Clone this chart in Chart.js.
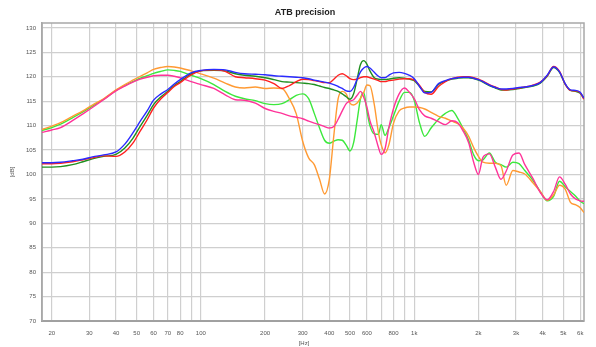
<!DOCTYPE html>
<html>
<head>
<meta charset="utf-8">
<script src="https://cdn.jsdelivr.net/npm/chart.js@4.4.1/dist/chart.umd.min.js"></script>
<style>
  html, body { margin: 0; padding: 0; background: #fff; }
</style>
</head>
<body>
<canvas id="atb" width="596" height="347"></canvas>
<script>
// frequency points (Hz)
const freqs = [18, 20, 22, 25, 28, 31, 35, 40, 44, 48,
  52, 56, 60, 65, 70, 75, 80, 90, 100, 115,
  130, 145, 160, 180, 200, 220, 240, 260, 280, 300,
  320, 340, 360, 380, 400, 420, 440, 460, 480, 500,
  520, 540, 560, 580, 600, 620, 650, 680, 700, 730,
  760, 800, 850, 900, 950, 1000, 1060, 1120, 1200, 1300,
  1400, 1500, 1600, 1700, 1800, 1900, 2000, 2100, 2250, 2400,
  2550, 2700, 2900, 3100, 3300, 3600, 3900, 4200, 4500, 4800,
  5100, 5400, 5700, 6000, 6250];

// levels in dB
const blue = [102.4, 102.4, 102.5, 102.8, 103.1, 103.6, 104.0, 104.6, 106.2, 108.5,
  110.9, 113.0, 115.2, 116.5, 117.4, 118.5, 119.4, 120.8, 121.3, 121.5,
  121.4, 120.9, 120.6, 120.5, 120.4, 120.2, 120.1, 120.0, 119.9, 119.8,
  119.6, 119.3, 119.1, 118.9, 118.7, 118.4, 118.0, 117.6, 117.1, 117.0,
  117.8, 119.5, 121.0, 121.8, 122.1, 121.8, 120.9, 120.1, 119.8, 119.8,
  120.3, 120.8, 120.9, 120.7, 120.3, 119.6, 118.0, 116.7, 116.8, 118.6,
  119.2, 119.6, 119.8, 119.9, 119.9, 119.7, 119.4, 119.0, 118.3, 117.8,
  117.5, 117.5, 117.6, 117.8, 117.9, 118.2, 118.8, 120.3, 122.0, 121.0,
  118.6, 117.3, 117.2, 116.8, 115.6];

const red = [102.2, 102.2, 102.3, 102.6, 103.0, 103.4, 103.8, 103.7, 104.6, 106.4,
  108.9, 111.2, 113.6, 115.5, 116.8, 118.0, 118.8, 120.4, 121.2, 121.4,
  121.1, 120.0, 119.8, 119.6, 119.3, 118.6, 117.6, 118.2, 119.0, 119.5,
  119.4, 119.2, 119.0, 118.8, 118.8, 119.5, 120.3, 120.6, 120.2, 119.6,
  119.4, 119.5, 119.8, 120.0, 120.0, 119.8, 119.5, 119.2, 119.0, 119.0,
  119.2, 119.3, 119.5, 119.6, 119.6, 119.3, 118.2, 116.8, 116.4, 118.0,
  119.0, 119.6, 119.9, 120.0, 120.0, 119.8, 119.5, 119.1, 118.4, 117.9,
  117.4, 117.3, 117.5, 117.7, 117.9, 118.3, 118.9, 120.2, 122.1, 121.1,
  118.5, 117.2, 117.1, 116.7, 115.4];

const darkGreen = [101.5, 101.5, 101.6, 102.0, 102.6, 103.2, 103.7, 104.1, 105.4, 107.4,
  109.9, 112.1, 114.3, 115.9, 117.0, 118.2, 119.0, 120.6, 121.2, 121.3,
  121.2, 120.6, 120.3, 120.1, 119.8, 119.4, 119.0, 118.9, 118.8, 118.7,
  118.6, 118.4, 118.1, 117.8, 117.6, 117.3, 117.0, 116.5, 115.9, 115.4,
  116.5, 119.5, 122.5, 123.3, 122.6, 121.2, 119.8, 119.5, 119.4, 119.4,
  119.5, 119.7, 119.8, 119.7, 119.5, 119.2, 118.0, 117.0, 116.9, 118.4,
  119.1, 119.5, 119.7, 119.8, 119.8, 119.6, 119.3, 118.9, 118.2, 117.7,
  117.3, 117.3, 117.4, 117.6, 117.8, 118.1, 118.7, 120.1, 121.9, 120.9,
  118.5, 117.2, 117.0, 116.6, 115.5];

const orange = [109.2, 109.9, 110.6, 111.9, 113.0, 114.2, 115.5, 117.3, 118.4, 119.3,
  120.1, 120.8, 121.5, 121.9, 122.1, 122.0, 121.8, 121.2, 120.6, 119.7,
  118.7, 117.9, 117.7, 117.9, 117.6, 117.7, 117.6, 115.5, 112.4, 106.8,
  103.4, 102.0, 99.0, 96.0, 99.0, 108.0, 115.5, 117.0, 116.5, 114.6,
  114.2, 114.6, 115.6, 116.8, 118.3, 118.2, 114.3, 108.5, 106.1, 104.4,
  106.0, 110.5, 113.0, 113.6, 113.8, 113.8, 113.7, 113.4, 112.7, 111.9,
  111.5, 110.9, 110.4, 109.4, 107.8, 105.5, 103.7, 102.5, 102.3, 102.3,
  101.8, 97.8, 100.8, 100.5, 100.1, 98.3, 96.5, 94.7, 95.8, 97.8,
  97.0, 94.3, 93.8, 93.2, 92.2];

const lightGreen = [109.0, 109.6, 110.3, 111.6, 112.8, 114.0, 115.4, 117.2, 118.2, 119.0,
  119.7, 120.2, 120.7, 121.1, 121.4, 121.3, 121.1, 120.3, 119.6, 118.4,
  117.0, 116.0, 115.5, 115.1, 114.5, 114.3, 114.5, 115.3, 116.2, 116.5,
  115.5, 112.5, 109.5, 107.0, 106.4, 106.8, 107.1, 107.0, 106.0, 104.8,
  106.5, 111.0, 115.5, 116.8, 113.0, 110.0, 108.3, 108.2, 110.2, 108.0,
  109.5, 112.0, 115.0, 116.8, 116.8, 115.2, 110.5, 107.8, 109.5, 111.3,
  112.5, 113.1, 111.5, 109.3, 107.0, 104.0, 102.8, 103.0, 104.4, 102.5,
  102.0, 101.5, 102.5, 102.2, 100.8, 98.8, 96.5, 94.6, 95.5, 98.6,
  97.5, 96.5, 95.6, 94.5, 94.0];

const pink = [108.6, 109.1, 109.6, 111.0, 112.4, 113.7, 115.3, 117.1, 118.1, 118.9,
  119.5, 119.9, 120.2, 120.3, 120.3, 120.1, 119.8, 119.0, 118.4, 117.6,
  116.3, 115.3, 115.2, 114.6, 113.5, 112.9, 112.5, 112.0, 111.7, 111.4,
  110.9, 110.5, 110.2, 109.8, 109.5, 109.8, 111.3, 113.0, 114.5, 115.0,
  115.3, 116.2, 117.0, 115.8, 113.8, 111.0, 108.5, 105.5, 104.1, 105.3,
  109.5, 113.5, 116.5, 117.7, 116.8, 115.5, 113.2, 112.0, 111.5, 110.8,
  110.2, 111.0, 110.6, 108.8, 106.5, 102.5, 100.0, 103.5, 104.2, 101.5,
  99.0, 100.7, 104.0, 104.4, 102.0, 99.2, 96.3, 94.8, 96.5, 99.5,
  98.0, 96.0, 95.0, 94.6, 94.5];

// axis ticks
const xTicks = [20, 30, 40, 50, 60, 70, 80, 90, 100, 200, 300, 400, 500, 600, 700, 800, 900,
  1000, 2000, 3000, 4000, 5000, 6000];
const xTickLabels = ['20', '30', '40', '50', '60', '70', '80', '', '100', '200', '300', '400', '500', '600', '', '800', '',
  '1k', '2k', '3k', '4k', '5k', '6k'];
const yTicks = [70, 75, 80, 85, 90, 95, 100, 105, 110, 115, 120, 125, 130];

function series(vals, color) {
  return {
    data: freqs.map((f, i) => ({ x: f, y: vals[i] })),
    borderColor: color,
    borderWidth: 1.4,
    pointRadius: 0,
    fill: false,
    cubicInterpolationMode: 'monotone'
  };
}

// plot frame + title and [Hz] placed like the original
const framePlugin = {
  id: 'frame',
  beforeDatasetsDraw(chart) {
    const { ctx, chartArea: a } = chart;
    ctx.save();
    ctx.strokeStyle = '#a8a8a8';
    ctx.lineWidth = 1.5;
    ctx.strokeRect(a.left, a.top, a.right - a.left, a.bottom - a.top);
    ctx.restore();
  },
  afterDraw(chart) {
    const { ctx } = chart;
    ctx.save();
    ctx.textAlign = 'center';
    ctx.textBaseline = 'middle';
    ctx.fillStyle = '#222';
    ctx.font = 'bold 9px Arial, "Liberation Sans", sans-serif';
    ctx.fillText('ATB precision', 305, 13);
    ctx.fillStyle = '#555';
    ctx.font = '6px Arial, "Liberation Sans", sans-serif';
    ctx.fillText('[Hz]', 304, 343);
    ctx.restore();
  }
};

Chart.defaults.font.family = 'Arial, "Liberation Sans", sans-serif';

new Chart(document.getElementById('atb'), {
  type: 'line',
  data: {
    datasets: [
      series(blue, '#2a2aff'),
      series(red, '#ff2020'),
      series(darkGreen, '#1f8f1f'),
      series(pink, '#ff3399'),
      series(orange, '#ff9a33'),
      series(lightGreen, '#3ce83c')
    ]
  },
  options: {
    responsive: false,
    animation: false,
    layout: { padding: { left: 0, right: 12, top: 23, bottom: 0 } },
    plugins: {
      legend: { display: false },
      tooltip: { enabled: false }
    },
    scales: {
      x: {
        type: 'logarithmic',
        min: 18,
        max: 6250,
        afterBuildTicks: s => { s.ticks = xTicks.map(v => ({ value: v })); },
        afterFit: s => { s.height = 26; },
        ticks: {
          autoSkip: false,
          maxRotation: 0,
          padding: 9,
          color: '#555',
          font: { size: 6 },
          callback: (v) => xTickLabels[xTicks.indexOf(v)]
        },
        grid: { color: '#cfcfcf', lineWidth: 1.2, drawTicks: false },
        border: { color: '#8a8a8a', width: 2 }
      },
      y: {
        min: 70,
        max: 131,
        afterBuildTicks: s => { s.ticks = yTicks.map(v => ({ value: v })); },
        afterFit: s => { s.width = 42; },
        ticks: { padding: 6, color: '#555', font: { size: 6 } },
        grid: { color: '#cfcfcf', lineWidth: 1.2, drawTicks: false },
        border: { color: '#a8a8a8', width: 1.5 },
        title: { display: true, text: '[dB]', color: '#555', font: { size: 6 }, padding: { top: 9, bottom: 0 } }
      }
    }
  },
  plugins: [framePlugin]
});
</script>
</body>
</html>
